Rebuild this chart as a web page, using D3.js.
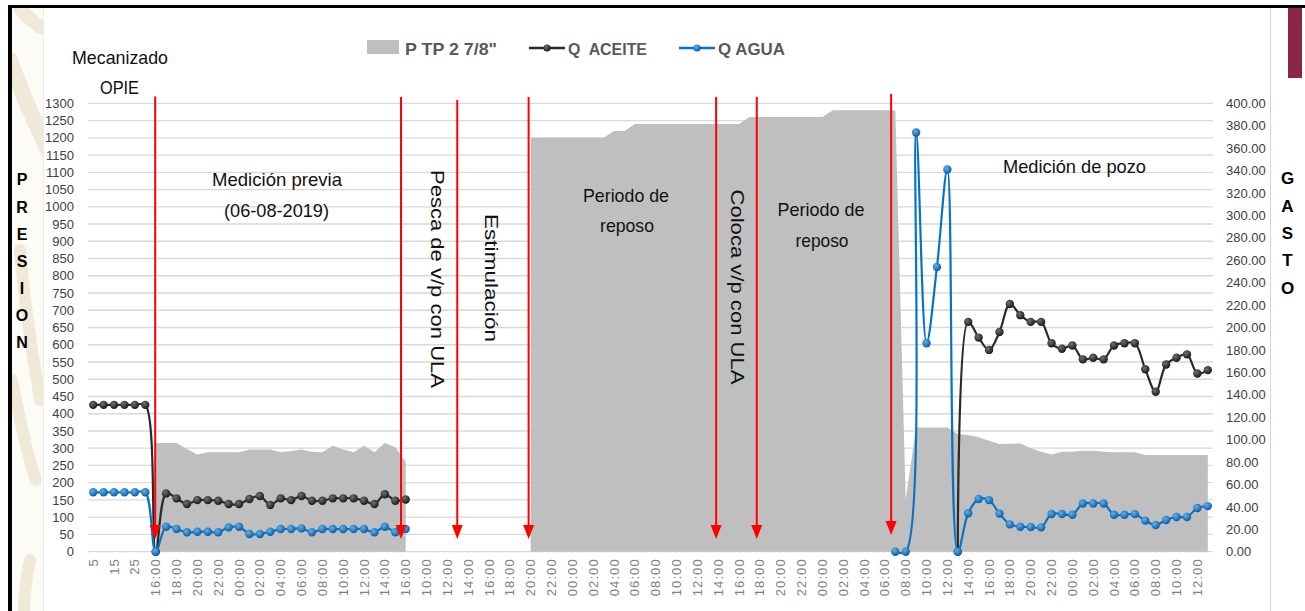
<!DOCTYPE html>
<html>
<head>
<meta charset="utf-8">
<script src="https://cdn.jsdelivr.net/npm/d3@7"></script>
<style>
  body { margin: 0; background: #fff; }
  svg { display: block; }
  text { font-family: "Liberation Sans", Arial, sans-serif; }
</style>
</head>
<body>
<svg id="chart" width="1305" height="611"></svg>
<script>
// ---- categories (first six are minute readings, then hourly readings) ----
const categories = [
  "5","10","15","20","25","30",
  "16:00","17:00","18:00","19:00","20:00","21:00","22:00","23:00","00:00","01:00",
  "02:00","03:00","04:00","05:00","06:00","07:00","08:00","09:00","10:00","11:00",
  "12:00","13:00","14:00","15:00","16:00",
  "09:00","10:00","11:00","12:00","13:00","14:00","15:00","16:00","17:00","18:00",
  "19:00","20:00","21:00","22:00","23:00","00:00","01:00","02:00","03:00","04:00",
  "05:00","06:00","07:00","08:00","09:00","10:00","11:00","12:00","13:00","14:00",
  "15:00","16:00","17:00","18:00","19:00","20:00","21:00","22:00","23:00","00:00",
  "01:00","02:00","03:00","04:00","05:00","06:00","07:00","08:00","09:00","10:00",
  "11:00","12:00","13:00","14:00","15:00","16:00","17:00","18:00","19:00","20:00",
  "21:00","22:00","23:00","00:00","01:00","02:00","03:00","04:00","05:00","06:00",
  "07:00","08:00","09:00","10:00","11:00","12:00","13:00"
];

// P TP 2 7/8" (left axis, presion)
const pTP = [
  null,null,null,null,null,null,
  315,315,315,298,282,288,288,288,288,296,296,296,288,292,296,290,288,307,296,288,307,288,315,303,261,
  null,null,null,null,null,null,null,null,null,null,null,
  1200,1200,1200,1200,1200,1200,1200,1200,1220,1220,
  1240,1240,1240,1240,1240,1240,1240,1240,1240,1240,1240,
  1260,1260,1260,1260,1260,1260,1260,1260,
  1280,1280,1280,1280,1280,1280,1280,
  150,360,360,360,360,
  341,338,332,322,312,313,314,300,290,282,290,290,293,293,290,288,288,288,
  280,280,280,280,280,280,280
];

// Q ACEITE (right axis, gasto)
const qAceite = [
  131,131,131,131,131,131,
  0,52,47.6,42.5,46,46,45.5,42.5,42.5,47,49.7,41.7,47.6,46,49.7,45.5,45.5,47.6,47.6,47.6,45.5,42.5,51.2,45.5,46.6,
  null,null,null,null,null,null,null,null,null,null,null,null,null,
  null,null,null,null,null,null,null,null,null,null,null,null,null,
  null,null,null,null,null,null,null,null,null,null,null,null,null,
  null,null,null,null,null,null,null,null,null,null,null,null,null,
  0,205,191,180,196,221,211,205,205,186,181,184,171.6,173,171.6,184,186,186,162.7,142.7,167,173,176,159,162
];

// Q AGUA (right axis, gasto)
const qAgua = [
  53,53,53,53,53,53,
  0,22.3,20.2,17.3,17.8,17.8,17.3,21.7,22.3,15.8,15.8,17.8,20.2,20.2,20.8,17.3,20.2,20.2,20.2,20.2,20.2,17.3,22.3,17.3,20.2,
  null,null,null,null,null,null,null,null,null,null,null,null,null,null,null,null,
  null,null,null,null,null,null,null,null,null,null,null,null,null,null,null,
  null,null,null,null,null,null,null,null,null,null,null,null,null,null,null,
  0,0,374,186,254,341,
  0,34.3,47,46,34,24.4,22.3,22,21.7,33.6,33.6,33,43,43,43,33,33,33.5,27.7,23.8,28.3,31,31,39,40.7
];

const leftTicks = [0,50,100,150,200,250,300,350,400,450,500,550,600,650,700,750,800,850,900,950,1000,1050,1100,1150,1200,1250,1300];
const rightTicks = [0,20,40,60,80,100,120,140,160,180,200,220,240,260,280,300,320,340,360,380,400];

// operation events (category position of each red arrow)
const eventArrows = [
  { at: 5.95,  top: 96.5, tip: 539 },
  { at: 29.55, top: 97,   tip: 539 },
  { at: 34.95, top: 100,  tip: 539 },
  { at: 41.8,  top: 97,   tip: 539 },
  { at: 59.8,  top: 97,   tip: 539 },
  { at: 63.7,  top: 97,   tip: 539 },
  { at: 76.6,  top: 94,   tip: 535 }
];

// ---- layout ----
const svg = d3.select("#chart");
const plot = { left: 88, right: 1213, top: 103.3, bottom: 551.7 };

const x = d3.scaleBand().domain(d3.range(categories.length)).range([plot.left, plot.right]);
const bw = x.bandwidth();
const cx = i => x(i) + bw / 2;
const xPos = d3.scaleLinear().domain([0, categories.length - 1]).range([cx(0), cx(categories.length - 1)]);
const yL = d3.scaleLinear().domain([0, 1300]).range([plot.bottom, plot.top]);
const yR = d3.scaleLinear().domain([0, 400]).range([plot.bottom, plot.top]);

// gradients for the round markers
const defs = svg.append("defs");
function sphere(id, light, dark) {
  const g = defs.append("radialGradient").attr("id", id).attr("cx", "38%").attr("cy", "35%").attr("r", "65%");
  g.append("stop").attr("offset", "0%").attr("stop-color", light);
  g.append("stop").attr("offset", "100%").attr("stop-color", dark);
}
sphere("dotBlack", "#707070", "#1a1a1a");
sphere("dotBlue", "#5fb0ee", "#0a5ea6");
defs.append("clipPath").attr("id", "strip").append("rect").attr("x", 12).attr("y", 8).attr("width", 31).attr("height", 603);

// ---- page decoration ----
svg.append("rect").attr("x", 12).attr("y", 8).attr("width", 31).attr("height", 603).attr("fill", "#fdfbf6");
const deco = svg.append("g").attr("clip-path", "url(#strip)").attr("fill", "none").attr("stroke", "#f1e9d7").attr("stroke-linecap", "round");
deco.append("path").attr("d", "M20,8 C30,20 40,28 48,30").attr("stroke-width", 14);
deco.append("path").attr("d", "M10,60 C22,95 34,120 48,150").attr("stroke-width", 16);
deco.append("path").attr("d", "M20,250 C24,300 30,340 40,400").attr("stroke-width", 12);
deco.append("path").attr("d", "M12,380 C20,420 26,450 36,480").attr("stroke-width", 12);
deco.append("path").attr("d", "M30,560 C26,580 24,595 24,611").attr("stroke-width", 12);
svg.append("line").attr("x1", 43.5).attr("x2", 43.5).attr("y1", 8).attr("y2", 611).attr("stroke", "#ececec");
svg.append("line").attr("x1", 1270.5).attr("x2", 1270.5).attr("y1", 8).attr("y2", 611).attr("stroke", "#d6d6d6");
svg.append("rect").attr("x", 1288).attr("y", 8).attr("width", 14).attr("height", 70).attr("fill", "#8a2747");
svg.append("rect").attr("x", 8).attr("y", 5).attr("width", 1297).attr("height", 3).attr("fill", "#000");
svg.append("rect").attr("x", 8).attr("y", 5).attr("width", 4).attr("height", 606).attr("fill", "#000");

// ---- gridlines ----
svg.append("g").selectAll("line").data(leftTicks).join("line")
  .attr("x1", plot.left).attr("x2", plot.right)
  .attr("y1", d => yL(d)).attr("y2", d => yL(d))
  .attr("stroke", "#d9d9d9").attr("stroke-width", 1.3);

// ---- axes ----
const axL = svg.append("g").attr("transform", `translate(${plot.left},0)`)
  .call(d3.axisLeft(yL).tickValues(leftTicks).tickFormat(d3.format("d")).tickSize(0).tickPadding(14));
axL.select(".domain").remove();
axL.selectAll("text").attr("font-size", 13).attr("fill", "#404040")
  .style("font-family", "'Liberation Sans', Arial, sans-serif");

const axR = svg.append("g").attr("transform", `translate(${plot.right},0)`)
  .call(d3.axisRight(yR).tickValues(rightTicks).tickFormat(d3.format(".2f")).tickSize(0).tickPadding(13));
axR.select(".domain").remove();
axR.selectAll("text").attr("font-size", 13).attr("fill", "#404040")
  .style("font-family", "'Liberation Sans', Arial, sans-serif");

const axB = svg.append("g").attr("transform", `translate(0,${plot.bottom})`)
  .call(d3.axisBottom(x).tickValues(d3.range(0, categories.length, 2)).tickFormat(i => categories[i]).tickSize(0));
axB.select(".domain").remove();
axB.selectAll("text")
  .attr("transform", "rotate(-90)")
  .attr("x", -6.5).attr("y", 0).attr("dy", "0.35em")
  .style("text-anchor", "end")
  .attr("font-size", 13).attr("fill", "#808080").attr("letter-spacing", 1.1)
  .style("font-family", "'Liberation Sans', Arial, sans-serif");

// ---- pressure area ----
svg.append("path").datum(pTP)
  .attr("fill", "#bfbfbf")
  .attr("d", d3.area().defined(d => d != null).x((d, i) => cx(i)).y0(yL(0)).y1(d => yL(d)));

// ---- rate lines ----
const rateLine = d3.line().defined(d => d != null).x((d, i) => cx(i)).y(d => yR(d)).curve(d3.curveCatmullRom.alpha(0.5));
function series(values, color, dot) {
  svg.append("path").datum(values).attr("fill", "none").attr("stroke", color)
    .attr("stroke-width", 2.2).attr("stroke-linejoin", "round").attr("d", rateLine);
  svg.append("g").selectAll("circle")
    .data(values.map((v, i) => ({ v, i })).filter(d => d.v != null))
    .join("circle")
    .attr("cx", d => cx(d.i)).attr("cy", d => yR(d.v)).attr("r", 4.2)
    .attr("fill", `url(#${dot})`);
}
series(qAceite, "#2a2a2a", "dotBlack");
series(qAgua, "#0a72c6", "dotBlue");

// ---- event arrows ----
const arrows = svg.append("g");
eventArrows.forEach(a => {
  const ax = xPos(a.at);
  arrows.append("line").attr("x1", ax).attr("x2", ax).attr("y1", a.top).attr("y2", a.tip - 12)
    .attr("stroke", "#ff0000").attr("stroke-width", 2);
  arrows.append("path")
    .attr("d", `M${ax - 5.5},${a.tip - 14} L${ax + 5.5},${a.tip - 14} L${ax},${a.tip} Z`)
    .attr("fill", "#ff0000");
});

// ---- annotations ----
const notes = [
  { t: "Mecanizado", x: 120, y: 64, len: 96 },
  { t: "OPIE", x: 119.5, y: 94, len: 39 },
  { t: "Medición previa", x: 277, y: 186, len: 130 },
  { t: "(06-08-2019)", x: 276.5, y: 217, len: 105 },
  { t: "Periodo de", x: 626, y: 202, len: 86 },
  { t: "reposo", x: 627, y: 232, len: 54 },
  { t: "Periodo de", x: 821, y: 216, len: 87 },
  { t: "reposo", x: 822, y: 247, len: 53 },
  { t: "Medición de pozo", x: 1074.5, y: 173, len: 143 }
];
svg.append("g").selectAll("text").data(notes).join("text")
  .attr("x", d => d.x).attr("y", d => d.y)
  .attr("text-anchor", "middle").attr("font-size", 19).attr("fill", "#111")
  .attr("textLength", d => d.len).attr("lengthAdjust", "spacingAndGlyphs")
  .text(d => d.t);

const vnotes = [
  { t: "Pesca de v/p con ULA", x: 438, y: 279, len: 218 },
  { t: "Estimulación", x: 492, y: 278, len: 128 },
  { t: "Coloca v/p con ULA", x: 738, y: 287, len: 195 }
];
svg.append("g").selectAll("text").data(vnotes).join("text")
  .attr("transform", d => `translate(${d.x},${d.y}) rotate(90)`)
  .attr("text-anchor", "middle").attr("dy", "0.35em").attr("font-size", 19).attr("fill", "#111")
  .attr("textLength", d => d.len).attr("lengthAdjust", "spacingAndGlyphs")
  .text(d => d.t);

// ---- stacked axis titles ----
const presion = ["P", "R", "E", "S", "I", "O", "N"];
const presionY = [179, 207, 234, 261, 288, 315, 342];
svg.append("g").selectAll("text").data(presion).join("text")
  .attr("x", 22).attr("y", (d, i) => presionY[i]).attr("dy", "0.35em")
  .attr("text-anchor", "middle").attr("font-size", 16).attr("font-weight", "bold").attr("fill", "#000")
  .text(d => d);
const gasto = ["G", "A", "S", "T", "O"];
const gastoY = [178, 206.5, 233.5, 260.5, 288];
svg.append("g").selectAll("text").data(gasto).join("text")
  .attr("x", 1287.5).attr("y", (d, i) => gastoY[i]).attr("dy", "0.35em")
  .attr("text-anchor", "middle").attr("font-size", 17).attr("font-weight", "bold").attr("fill", "#000")
  .text(d => d);

// ---- legend ----
const lg = svg.append("g");
lg.append("rect").attr("x", 367).attr("y", 40).attr("width", 32).attr("height", 14).attr("fill", "#bfbfbf");
const legendText = [
  { t: 'P TP 2 7/8"', x: 405, len: 92 },
  { t: "Q  ACEITE", x: 568, len: 79 },
  { t: "Q AGUA", x: 718, len: 67 }
];
lg.selectAll("text").data(legendText).join("text")
  .attr("x", d => d.x).attr("y", 55)
  .attr("font-size", 17).attr("font-weight", "bold").attr("fill", "#595959")
  .style("white-space", "pre")
  .attr("textLength", d => d.len).attr("lengthAdjust", "spacingAndGlyphs")
  .text(d => d.t);
[{ x1: 529, x2: 565, c: "#2a2a2a", dot: "dotBlack" }, { x1: 679, x2: 715, c: "#0a72c6", dot: "dotBlue" }].forEach(s => {
  lg.append("line").attr("x1", s.x1).attr("x2", s.x2).attr("y1", 48).attr("y2", 48).attr("stroke", s.c).attr("stroke-width", 2.4);
  lg.append("circle").attr("cx", (s.x1 + s.x2) / 2).attr("cy", 48).attr("r", 3.6).attr("fill", `url(#${s.dot})`);
});
</script>
</body>
</html>
